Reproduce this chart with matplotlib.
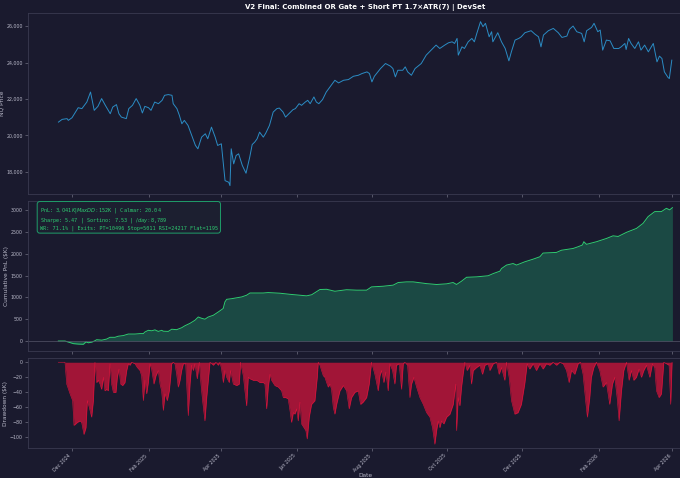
import pandas as pd
import matplotlib.pyplot as plt
import matplotlib.dates as mdates

# days are counted from 2024-12-01
origin = pd.Timestamp("2024-12-01")

price_days = [-11, -8, -4, -3, 0, 2, 5, 8, 10, 12, 15, 18, 21, 24, 27, 31, 33, 36, 38, 40,
              44, 46, 49, 52, 55, 57, 59, 62, 64, 67, 70, 73, 75, 78, 81, 82, 85, 87, 89, 91,
              94, 97, 100, 102, 105, 108, 110, 113, 116, 118, 121, 124, 127, 128, 129, 131, 133, 135, 138, 141,
              144, 146, 148, 150, 152, 155, 157, 160, 163, 166, 168, 171, 173, 177, 179, 181, 184, 186, 189, 191,
              193, 196, 198, 200, 203, 206, 209, 213, 216, 220, 224, 228, 232, 235, 239, 241, 243, 245, 250, 254,
              258, 260, 262, 264, 268, 270, 272, 275, 278, 283, 287, 291, 295, 298, 302, 305, 308, 310, 312, 313,
              316, 318, 321, 324, 326, 328, 331, 333, 335, 338, 340, 341, 345, 348, 351, 354, 356, 359, 362, 364,
              367, 372, 375, 378, 380, 382, 386, 390, 394, 397, 401, 403, 406, 409, 413, 415, 417, 421, 423, 426,
              428, 430, 433, 436, 439, 443, 445, 448, 449, 451, 453, 456, 459, 461, 464, 467, 471, 474, 476, 478,
              480, 483, 484, 486]
price = [20730, 20880, 20920, 20825, 20970, 21190, 21520, 21470, 21650, 21830, 22380, 21375, 21595, 22020, 21650, 21190, 21555, 21690, 21190, 21005,
         20920, 21470, 21650, 22020, 21650, 21230, 21595, 21520, 21375, 21830, 21740, 21925, 22200, 22240, 22200, 21740, 21470, 21100, 20640, 20825,
         20550, 20000, 19450, 19265, 19905, 20090, 19815, 20455, 19905, 19450, 19540, 17520, 17430, 17245, 19265, 18440, 18900, 18990, 18350, 17925,
         18805, 19500, 19630, 19815, 20180, 19905, 20125, 20550, 21280, 21470, 21500, 21280, 21005, 21280, 21410, 21470, 21740, 21650, 21830, 21925,
         21740, 22110, 21830, 21740, 21965, 22380, 22660, 23025, 22880, 23025, 23065, 23245, 23300, 23395, 23485, 23395, 22935, 23245, 23670, 23945,
         23800, 23670, 23210, 23575, 23575, 23760, 23485, 23300, 23670, 23945, 24405, 24680, 24955, 24770, 24955, 25080, 25135, 25045, 25320, 24405,
         24860, 24770, 25135, 25320, 25135, 25595, 26240, 25965, 26150, 25410, 25690, 25135, 25635, 25135, 24770, 24090, 24585, 25230, 25320, 25410,
         25635, 25745, 25560, 25410, 24860, 25505, 25745, 25870, 25635, 25375, 25450, 25815, 26000, 25690, 25595, 25135, 25745, 25925, 26150, 25690,
         25780, 24680, 25230, 25190, 24770, 24770, 24860, 25045, 24715, 25320, 25045, 24770, 25135, 24680, 24955, 24585, 25045, 24035, 24350, 24220,
         23485, 23175, 23120, 24130]

pnl_days = [-11.1, -5.7, -3.0, 1.1, 5.1, 9.2, 11.3, 13.2, 16.0, 18.1, 20.0, 24.1, 28.1, 30.8, 34.8, 37.5, 41.6, 45.6, 51.0, 55.1,
            57.8, 59.1, 61.8, 64.6, 67.2, 69.9, 72.7, 74.0, 78.0, 80.8, 84.8, 88.9, 91.5, 95.6, 99.6, 102.3, 105.1, 107.7, 110.4, 114.5,
            118.5, 122.5, 123.9, 125.3, 129.4, 133.4, 137.5, 141.5, 144.2, 154.9, 159.0, 168.5, 176.6, 190.1, 194.2, 200.9, 206.3, 213.0, 222.5, 230.6,
            238.7, 242.7, 252.1, 260.2, 264.3, 271.1, 276.4, 287.3, 295.4, 303.5, 308.8, 311.6, 315.6, 319.7, 327.8, 337.2, 341.3, 346.7, 348.0, 352.1,
            357.4, 360.2, 366.9, 373.6, 379.1, 381.7, 392.6, 396.6, 406.0, 410.1, 413.6, 414.7, 416.9, 425.0, 433.1, 438.4, 442.5, 449.3, 457.4, 462.7,
            466.8, 472.2, 477.6, 481.6, 484.3, 486.5]
pnl = [0, 0, -23, -60, -70, -75, -20, -40, -25, 0, 30, 20, 45, 85, 85, 110, 125, 160, 160, 170,
       170, 207, 245, 235, 255, 220, 245, 225, 220, 270, 260, 305, 350, 405, 475, 550, 520, 500, 550, 590,
       665, 745, 895, 955, 970, 990, 1010, 1050, 1100, 1100, 1110, 1095, 1070, 1035, 1060, 1180, 1185, 1140, 1175, 1165,
       1165, 1240, 1255, 1280, 1340, 1355, 1355, 1315, 1295, 1310, 1340, 1295, 1370, 1460, 1470, 1495, 1545, 1600, 1660, 1740,
       1775, 1740, 1815, 1875, 1930, 2015, 2030, 2080, 2120, 2160, 2200, 2275, 2215, 2275, 2350, 2410, 2395, 2490, 2580, 2695,
       2850, 2965, 2965, 3040, 3005, 3055]

dd_days = [-11.1, -5.7, -4.3, -1.6, 0.5, 1.6, 4.3, 6.5, 7.8, 9.7, 11.3, 12.4, 14.0, 15.9, 17.3, 18.6, 20.0, 21.3, 22.7, 24.0,
           25.4, 26.7, 28.1, 29.4, 30.8, 32.1, 33.5, 35.6, 36.7, 38.1, 39.4, 41.0, 42.9, 44.3, 45.6, 47.0, 48.3, 51.0, 52.9, 55.1,
           56.4, 57.8, 59.1, 60.5, 61.8, 63.2, 64.5, 66.4, 68.0, 69.9, 71.3, 72.6, 74.0, 75.3, 77.2, 78.8, 79.9, 80.7, 82.1, 83.4,
           84.8, 86.1, 87.5, 88.8, 90.2, 92.1, 92.9, 94.2, 95.6, 96.9, 98.3, 99.6, 101.5, 103.1, 104.5, 105.8, 107.7, 109.1, 110.4, 111.8,
           114.5, 116.6, 118.5, 119.9, 121.2, 122.6, 123.9, 125.3, 127.4, 128.5, 130.7, 133.4, 135.5, 136.6, 138.8, 140.1, 141.5, 142.8, 144.2, 146.9,
           149.6, 152.3, 155.0, 156.3, 157.7, 159.0, 160.4, 161.7, 164.4, 167.1, 169.8, 171.2, 173.3, 175.2, 176.6, 177.9, 179.3, 180.6, 182.0, 183.3,
           184.7, 186.0, 187.9, 189.5, 190.6, 192.2, 194.1, 196.8, 198.7, 199.5, 200.9, 202.2, 203.6, 204.9, 206.3, 207.6, 209.0, 210.3, 211.7, 213.0,
           214.4, 215.7, 217.1, 219.8, 222.5, 224.6, 226.5, 229.2, 231.9, 233.8, 235.9, 238.7, 240.8, 242.7, 245.4, 248.1, 249.5, 250.8, 252.7, 254.3,
           256.2, 257.6, 259.7, 261.6, 262.9, 265.1, 267.0, 268.4, 269.7, 271.9, 273.8, 275.1, 277.0, 279.2, 281.9, 284.6, 287.3, 290.0, 292.1, 294.0,
           295.4, 296.7, 298.1, 299.4, 301.3, 303.5, 306.2, 308.9, 311.0, 311.6, 312.9, 314.3, 315.6, 316.9, 318.3, 320.2, 322.4, 323.7, 325.1, 327.8,
           330.5, 332.6, 334.6, 337.2, 338.6, 341.3, 344.0, 346.1, 348.0, 350.7, 352.1, 354.2, 356.1, 358.8, 361.4, 364.1, 366.8, 368.8, 370.9, 373.6,
           376.3, 379.1, 381.7, 384.4, 387.1, 389.8, 392.6, 395.2, 398.0, 400.7, 402.8, 404.7, 407.4, 410.1, 412.0, 414.1, 416.3, 417.6, 419.5, 420.8,
           422.8, 424.9, 427.6, 430.3, 433.0, 435.7, 437.9, 439.8, 441.7, 443.3, 445.2, 447.1, 449.3, 451.4, 453.3, 455.2, 457.3, 459.5, 461.4, 463.3,
           465.5, 468.2, 470.3, 472.2, 473.6, 475.7, 477.6, 479.5, 481.6, 483.8, 485.1, 486.2]
drawdown = [0, 0, -29, -42, -51, -84, -80, -78, -80, -96, -87, -51, -60, -73, -51, 0, -27, -24, -29, -36,
            -20, -38, -36, -38, -2, -29, -40, -40, -20, -9, -29, -31, -27, -11, -2, -4, 0, -2, -7, -11,
            -18, -51, -24, -42, -27, -2, -9, -29, -18, -11, -29, -38, -64, -42, -51, -38, -20, -2, 0, -2,
            -16, -33, -24, -11, -2, -2, -29, -71, -29, -4, -11, -2, -22, 0, -29, -51, -78, -47, -24, 0,
            -4, 0, -4, 0, -9, -27, -11, -20, -27, -11, -29, -31, -29, 0, -18, -38, -58, -20, -22, -24,
            -24, -27, -27, -29, -62, -33, -16, -24, -31, -33, -38, -47, -47, -49, -64, -80, -67, -69, -62, -78,
            -53, -82, -87, -91, -102, -73, -56, -51, -20, 0, -4, -11, -18, -20, -27, -33, -29, -36, -60, -69,
            -56, -47, -38, -31, -38, -62, -47, -40, -38, -56, -53, -47, -29, 0, -16, -38, -18, -11, -27, -13,
            -38, -2, -11, -29, -4, -2, -36, -2, 0, -4, -47, -29, -20, -33, -47, -56, -67, -73, -87, -109,
            -91, -78, -87, -78, -82, -73, -69, -56, -29, -91, -47, -58, -33, -16, 0, -11, -4, -29, -11, -7,
            -4, -16, -4, -2, -11, -2, 0, -16, -7, -24, 0, -20, -51, -69, -67, -56, -29, -2, -9, -2,
            -11, -2, -9, -2, -4, 0, -4, 0, -2, -11, -27, -11, -16, -2, 0, -16, -53, -73, -47, -20,
            -7, 0, -11, -33, -27, -56, -29, -20, -47, -78, -38, -11, 0, -24, -11, -24, -20, -9, -20, -11,
            -4, -20, -2, -7, -38, -47, -42, 0, -2, -4, -56, 0]

stats = ("PnL: $3,041K | MaxDD: $152K | Calmar: 20.04\n"
         "Sharpe: 5.47 | Sortino: 7.53 | $/day: $8,789\n"
         "WR: 71.1% | Exits: PT=10496 Stop=5011 RSI=24217 Flat=1195")

bg = "#1a1a2e"
txt = "#b8b8c8"

price_dates = origin + pd.to_timedelta(price_days, unit="D")
pnl_dates = origin + pd.to_timedelta(pnl_days, unit="D")
dd_dates = origin + pd.to_timedelta(dd_days, unit="D")

fig = plt.figure(figsize=(6.8, 4.78), dpi=100, facecolor=bg)
gs = fig.add_gridspec(3, 1, height_ratios=[6, 5, 3], left=0.0406, right=1.034,
                      top=0.9718, bottom=0.0621, hspace=0.05)
ax1 = fig.add_subplot(gs[0])
ax2 = fig.add_subplot(gs[1], sharex=ax1)
ax3 = fig.add_subplot(gs[2], sharex=ax1)

for ax in (ax1, ax2, ax3):
    ax.set_facecolor(bg)
    for s in ax.spines.values():
        s.set_color("#3a3a50")
        s.set_linewidth(0.6)
    ax.tick_params(colors="#707080", labelcolor=txt, labelsize=3.4, length=2, width=0.5, pad=1.5)

ax1.plot(price_dates, price, color="#2b8cc4", lw=0.7)
ax1.set_ylabel("NQ Price", fontsize=4.2, color=txt, labelpad=1.5)
ax1.yaxis.set_major_formatter(plt.FuncFormatter(lambda v, p: f"{v:,.0f}"))
ax1.set_title("V2 Final: Combined OR Gate + Short PT 1.7\u00d7ATR(7) | DevSet",
              fontsize=5.0, fontweight="bold", color="white", pad=3)

ax2.plot(pnl_dates, pnl, color="#2ecc71", lw=0.7)
ax2.fill_between(pnl_dates, pnl, 0, color="#1fb877", alpha=0.3, lw=0)
ax2.axhline(0, color="#55556a", lw=0.5)
ax2.set_ylabel("Cumulative PnL ($K)", fontsize=4.2, color=txt, labelpad=1.5)
ax2.text(0.018, 0.965, stats, transform=ax2.transAxes, va="top", ha="left",
         family="DejaVu Sans Mono", fontsize=3.7, color="#2ecc71", linespacing=1.1,
         bbox=dict(boxstyle="round,pad=0.5", facecolor="#1c1f30", edgecolor="#1f9e6a", lw=0.7))

ax3.fill_between(dd_dates, drawdown, 0, color="#dc143c", alpha=0.7, lw=0)
ax3.plot(dd_dates, drawdown, color="#dc143c", lw=0.4)
ax3.set_ylabel("Drawdown ($K)", fontsize=4.2, color=txt, labelpad=1.5)
ax3.set_xlabel("Date", fontsize=4.2, color=txt, labelpad=0)

ax3.xaxis.set_major_locator(mdates.MonthLocator(bymonth=[2, 4, 6, 8, 10, 12]))
ax3.xaxis.set_major_formatter(mdates.DateFormatter("%b %Y"))
plt.setp(ax1.get_xticklabels(), visible=False)
plt.setp(ax2.get_xticklabels(), visible=False)
plt.setp(ax3.get_xticklabels(), rotation=45, ha="right", fontsize=3.4)

fig.savefig("out.png", dpi=100, facecolor=bg)
